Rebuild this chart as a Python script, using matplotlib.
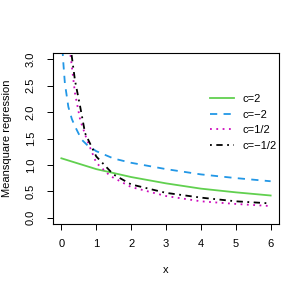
import matplotlib
matplotlib.use("Agg")
import matplotlib.pyplot as plt

plt.rcParams['font.family'] = ['Liberation Sans', 'DejaVu Sans']

# values
x_c2 = [0, 1, 2, 3, 4, 5, 6]
y_c2 = [1.125, 0.92, 0.77, 0.65, 0.55, 0.48, 0.42]

x_cm2 = [0.03, 0.06, 0.1, 0.2, 0.3, 0.39, 0.58, 0.75, 1.0, 1.5, 2, 3, 4, 5, 6]
y_cm2 = [3.2, 2.9, 2.55, 2.1, 1.87, 1.73, 1.48, 1.37, 1.26, 1.12, 1.04, 0.92, 0.82, 0.75, 0.69]

x_ch = [0.24, 0.39, 0.54, 0.73, 1.0, 1.4, 2, 3, 4, 5, 6]
y_ch = [3.2, 2.36, 1.85, 1.48, 1.04, 0.79, 0.58, 0.41, 0.31, 0.26, 0.22]

x_cmh = [0.27, 0.39, 0.54, 0.68, 1.0, 1.49, 2, 3, 4, 5, 6]
y_cmh = [3.2, 2.6, 2.1, 1.6, 1.16, 0.82, 0.63, 0.47, 0.38, 0.31, 0.27]

labels = ["c=2", "c=\u22122", "c=1/2", "c=\u22121/2"]
xticks = [0, 1, 2, 3, 4, 5, 6]
yticks = [0.0, 0.5, 1.0, 1.5, 2.0, 2.5, 3.0]

fig = plt.figure(figsize=(3.07, 2.91), dpi=100)
ax = fig.add_axes([53/307, 1 - 224/291, 226/307, 171/291])

lw = 1.3
ax.plot(x_c2, y_c2, color="#61D04F", lw=lw, label=labels[0])
ax.plot(x_cm2, y_cm2, color="#2297E6", lw=lw, dashes=(4, 3.5), label=labels[1])
ax.plot(x_ch, y_ch, color="#CD0BBC", lw=lw, dashes=(1, 2.5), label=labels[2])
ax.plot(x_cmh, y_cmh, color="black", lw=lw, dashes=(1, 2.5, 3.5, 2.5), label=labels[3])

ax.set_xlim(-0.24, 6.24)
ax.set_ylim(-0.12, 3.12)
ax.set_xticks(xticks)
ax.set_xticklabels([str(v) for v in xticks])
ax.set_yticks(yticks)
ax.set_yticklabels([f"{v:.1f}" for v in yticks], rotation=90, va="center")
ax.tick_params(labelsize=8, length=4.5, width=0.7)
ax.tick_params(axis="x", pad=6)
ax.tick_params(axis="y", pad=8)
for s in ax.spines.values():
    s.set_linewidth(0.8)
ax.set_xlabel("x", fontsize=8, labelpad=12)
ax.set_ylabel("Meansquare regression", fontsize=8, labelpad=10)

ax.legend(loc="upper left", bbox_to_anchor=(0.675, 0.785), frameon=False, fontsize=8,
          handlelength=2.2, handletextpad=0.7, labelspacing=0.5, borderaxespad=0)

fig.savefig("out.png", dpi=100)
